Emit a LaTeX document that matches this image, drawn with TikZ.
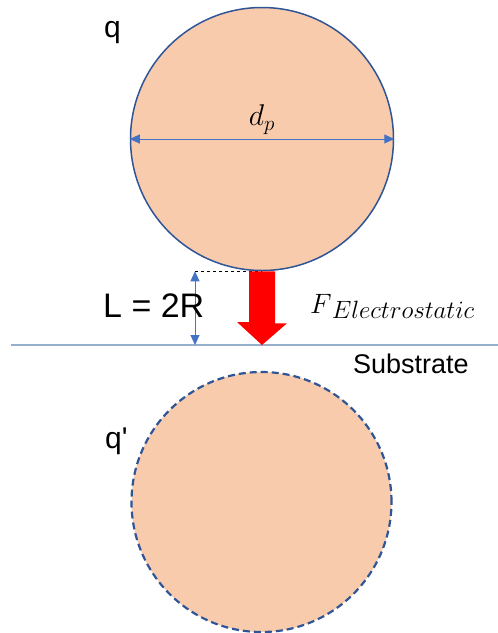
\RequirePackage{fix-cm}
\documentclass[tikz,border=0pt]{standalone}
\usepackage{fontspec}
\setmainfont{Liberation Sans}
\usetikzlibrary{arrows.meta, positioning, calc}
\definecolor{particlecolor}{RGB}{248,203,173}
\definecolor{edgecolor}{RGB}{47,85,151}
\definecolor{dimcolor}{RGB}{68,114,196}
\definecolor{substratecolor}{RGB}{150,175,205}

\begin{document}
\begin{tikzpicture}[
    x=1pt, y=-1pt,
    >={Triangle[length=10pt, width=9pt]},
    particle/.style={circle, fill=particlecolor, draw=edgecolor, inner sep=0pt},
    dim/.style={<->, dimcolor, line width=1pt},
    lbl/.style={inner sep=0pt, anchor=base west},
]
    \useasboundingbox (0,0) rectangle (498,633);
    % particle and its image charge
    \node[particle, line width=1.5pt, minimum size=263pt] (p) at (262,139) {};
    \node[particle, line width=2.2pt, dash pattern=on 7pt off 4pt, minimum size=260pt] (img) at (261.5,502) {};

    % substrate surface
    \coordinate (s1) at (11,345);
    \coordinate (s2) at (498,345);
    \draw[substratecolor, line width=1.6pt] (s1) -- (s2);

    % diameter
    \draw[dim] (p.west) -- node[above=4pt, inner sep=0pt, text=black, font=\fontsize{30}{36}\selectfont] (dp) {$d_p$} (p.east);

    % gap to the substrate
    \coordinate (Ltop) at ($(p.south)+(-67,0)$);
    \coordinate (Lbot) at (Ltop |- s1);
    \coordinate (tip) at (p.south |- s1);
    \draw[dashed, line width=0.8pt] (Ltop) -- (p.south);
    \draw[dim] (Ltop) -- (Lbot);

    % force arrow
    \fill[red] ($(p.south)+(-13,0)$) -- ++(26,0) -- ++(0,52) -- ++(12,0) -- (tip)
        -- ($(tip)+(-25,-23)$) -- ++(12,0) -- cycle;

    % labels
    \node[lbl, font=\fontsize{30}{36}\selectfont] (q) at (104,37) {q};
    \node[lbl, font=\fontsize{30}{36}\selectfont] (qimg) at (105,448) {q\textquotesingle};
    \node[lbl, font=\fontsize{34}{40}\selectfont] (L) at (103,317) {L = 2R};
    \node[lbl, font=\fontsize{27}{32}\selectfont] (sub) at (353,373) {Substrate};
    \node[lbl, font=\fontsize{28}{34}\selectfont] (F) at (310,313)
        {$F$\raisebox{-5pt}{\fontsize{25}{30}\selectfont$Electrostatic$}};
\end{tikzpicture}
\end{document}
